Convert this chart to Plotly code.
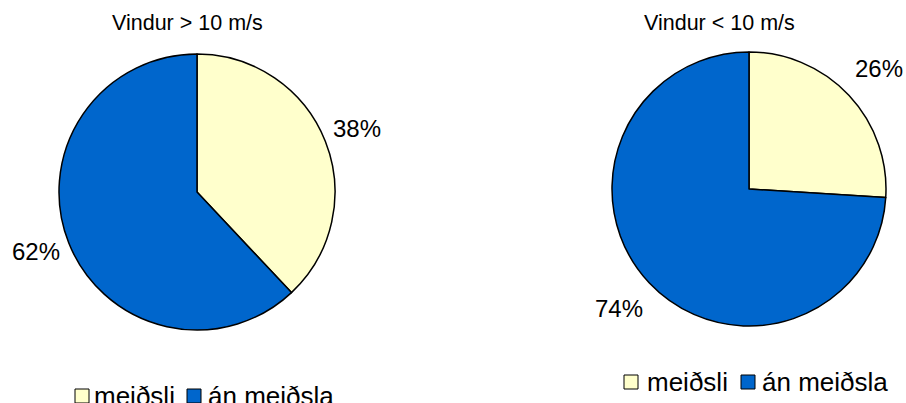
import plotly.graph_objects as go

W, H = 906, 403

labels = ["meiðsli", "án meiðsla"]
colors = ["#FFFFCC", "#0066CC"]
titles = ["Vindur > 10 m/s", "Vindur < 10 m/s"]
values_high = [38, 62]   # Vindur > 10 m/s
values_low = [26, 74]    # Vindur < 10 m/s

FONT = "Liberation Sans, Arial, sans-serif"

def px(x):
    return x / W

def py(y):
    return 1 - y / H

fig = go.Figure()

pies = [
    dict(vals=values_high, dom_x=[59, 335], dom_y=[54, 330]),
    dict(vals=values_low, dom_x=[612, 886], dom_y=[52, 326]),
]
for p in pies:
    fig.add_trace(go.Pie(
        labels=labels, values=p["vals"], sort=False, direction="clockwise",
        rotation=0, textinfo="none", hoverinfo="label+percent",
        marker=dict(colors=colors, line=dict(color="black", width=1.5)),
        domain=dict(x=[px(p["dom_x"][0]), px(p["dom_x"][1])],
                    y=[py(p["dom_y"][1]), py(p["dom_y"][0])]),
        showlegend=False,
    ))

annotations = []
shapes = []

# titles
for t, cx in zip(titles, [187, 719]):
    annotations.append(dict(x=px(cx), y=py(23), xref="paper", yref="paper",
                            text=t, showarrow=False, xanchor="center", yanchor="middle",
                            font=dict(family=FONT, size=21.5, color="black")))

# percentage labels
label_pos = [
    [(357, 128), (36, 251)],
    [(879, 68), (619, 308)],
]
for vals, poss in zip([values_high, values_low], label_pos):
    tot = sum(vals)
    for v, (lx, ly) in zip(vals, poss):
        annotations.append(dict(x=px(lx), y=py(ly), xref="paper", yref="paper",
                                text=f"{round(100 * v / tot)}%", showarrow=False,
                                xanchor="center", yanchor="middle",
                                font=dict(family=FONT, size=24, color="black")))

# manual legends
legend_layout = [
    dict(cy=396, items=[(75, 92), (187, 206)]),
    dict(cy=382, items=[(624, 645), (741, 760)]),
]
for lg in legend_layout:
    cy = lg["cy"]
    for (sx, tx), lab, col in zip(lg["items"], labels, colors):
        shapes.append(dict(type="rect", xref="paper", yref="paper",
                           x0=px(sx), x1=px(sx + 14), y0=py(cy + 7), y1=py(cy - 7),
                           fillcolor=col, line=dict(color="black", width=1)))
        annotations.append(dict(x=px(tx), y=py(cy), xref="paper", yref="paper",
                                text=lab, showarrow=False, xanchor="left", yanchor="middle",
                                font=dict(family=FONT, size=26, color="black")))

fig.update_layout(
    width=W, height=H,
    margin=dict(l=0, r=0, t=0, b=0),
    paper_bgcolor="white", plot_bgcolor="white",
    annotations=annotations, shapes=shapes,
    showlegend=False,
)

fig.write_html("out.html")
